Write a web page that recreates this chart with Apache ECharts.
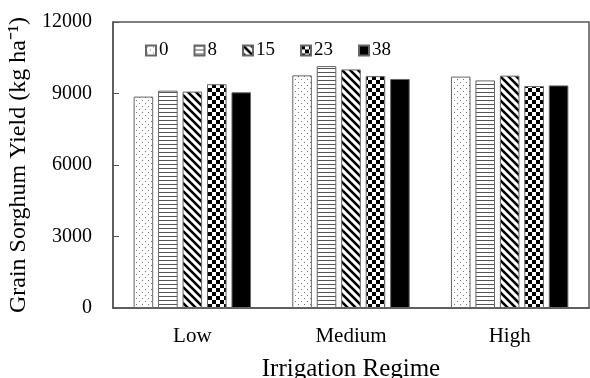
<!DOCTYPE html>
<html>
<head>
<meta charset="utf-8">
<script src="https://cdn.jsdelivr.net/npm/echarts@6/dist/echarts.min.js"></script>
<style>
  html, body { margin: 0; padding: 0; background: #fff; }
  #chart { width: 590px; height: 378px; }
</style>
</head>
<body>
<div id="chart"></div>
<script>
const categories = ['Low', 'Medium', 'High']
const seriesNames = ['0', '8', '15', '23', '38']
const yield0 = [8870, 9760, 9710]
const yield8 = [9120, 10150, 9550]
const yield15 = [9080, 10010, 9750]
const yield23 = [9390, 9730, 9310]
const yield38 = [9050, 9610, 9340]
const seriesValues = [yield0, yield8, yield15, yield23, yield38]

const FONT = '"Liberation Serif", "Times New Roman", serif'

function makeCanvas(size, draw) {
  const c = document.createElement('canvas')
  c.width = size
  c.height = size
  const ctx = c.getContext('2d')
  ctx.fillStyle = '#fff'
  ctx.fillRect(0, 0, size, size)
  draw(ctx, size)
  return c
}

const patterns = [
  // sparse dots
  makeCanvas(6, (ctx) => {
    ctx.fillStyle = '#777'
    ctx.fillRect(1, 1, 1, 1)
    ctx.fillRect(4, 4, 1, 1)
  }),
  // horizontal lines
  makeCanvas(4, (ctx, s) => {
    ctx.fillStyle = '#555'
    ctx.fillRect(0, 0, s, 1)
  }),
  // diagonal stripes, top-left to bottom-right
  makeCanvas(8, (ctx, s) => {
    ctx.strokeStyle = '#000'
    ctx.lineWidth = 2.6
    for (let k = -s; k <= 2 * s; k += s) {
      ctx.beginPath()
      ctx.moveTo(k - s, -s)
      ctx.lineTo(k + 2 * s, 2 * s)
      ctx.stroke()
    }
  }),
  // checkerboard
  makeCanvas(8, (ctx) => {
    ctx.fillStyle = '#000'
    ctx.fillRect(0, 0, 4, 4)
    ctx.fillRect(4, 4, 4, 4)
  }),
  null,
]

const series = seriesNames.map((name, i) => ({
  name,
  type: 'bar',
  data: seriesValues[i],
  barGap: '25%',
  barCategoryGap: '26%',
  itemStyle: {
    color: patterns[i] ? { image: patterns[i], repeat: 'repeat' } : '#000',
    borderColor: '#666',
    borderWidth: 1,
  },
  emphasis: { disabled: true },
}))

const chart = echarts.init(document.getElementById('chart'), null, { renderer: 'canvas' })
chart.setOption({
  backgroundColor: '#fff',
  animation: false,
  textStyle: { fontFamily: FONT },
  grid: {
    left: 113, right: 1, top: 22, bottom: 70,
    outerBoundsMode: 'none',
    containLabel: false,
    show: true, borderColor: '#555', borderWidth: 1.5,
  },
  legend: {
    data: seriesNames,
    left: 140,
    top: 36,
    icon: 'rect',
    itemWidth: 10,
    itemHeight: 10,
    itemGap: 25,
    textStyle: { fontFamily: FONT, fontSize: 19, color: '#000', padding: [0, 0, 0, -2] },
  },
  xAxis: {
    type: 'category',
    data: categories,
    name: 'Irrigation Regime',
    nameLocation: 'middle',
    nameGap: 49,
    nameTextStyle: { fontFamily: FONT, fontSize: 25, color: '#000' },
    axisLine: { show: true, lineStyle: { color: '#555', width: 1.5 } },
    axisTick: { show: false },
    axisLabel: { fontFamily: FONT, fontSize: 21, color: '#000', margin: 18 },
  },
  yAxis: {
    type: 'value',
    min: 0,
    max: 12000,
    interval: 3000,
    name: 'Grain Sorghum Yield (kg ha⁻¹)',
    nameLocation: 'middle',
    nameGap: 71,
    nameTextStyle: { fontFamily: FONT, fontSize: 24, color: '#000' },
    axisLine: { show: true, lineStyle: { color: '#555', width: 1.5 } },
    axisTick: { show: true, inside: true, length: 6, lineStyle: { color: '#555' } },
    axisLabel: { fontFamily: FONT, fontSize: 20, color: '#000', margin: 21, formatter: (v) => String(v) },
    splitLine: { show: false },
  },
  series,
})
</script>
</body>
</html>
